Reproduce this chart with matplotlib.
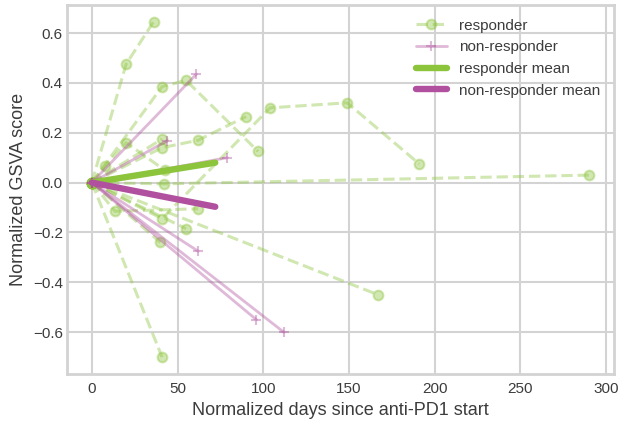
import numpy as np
import matplotlib
matplotlib.use('Agg')
import matplotlib.pyplot as plt

plt.style.use('seaborn-v0_8-whitegrid')
plt.rcParams['font.family'] = ['Liberation Sans', 'DejaVu Sans']

# 每个病人的随访时间点和归一化GSVA分数（都从0开始）
responder_days = [
    [0, 20, 36],
    [0, 41, 55, 97],
    [0, 7.5, 20, 42.5],
    [0, 41, 62, 90],
    [0, 41, 104, 149, 191],
    [0, 42, 290],
    [0, 167],
    [0, 41],
    [0, 13.5, 62],
    [0, 55],
    [0, 40],
    [0, 41],
]
responder_scores = [
    [0, 0.475, 0.645],
    [0, 0.385, 0.41, 0.125],
    [0, 0.065, 0.16, 0.05],
    [0, 0.14, 0.17, 0.265],
    [0, -0.145, 0.30, 0.32, 0.075],
    [0, -0.005, 0.03],
    [0, -0.45],
    [0, -0.70],
    [0, -0.115, -0.105],
    [0, -0.185],
    [0, -0.24],
    [0, 0.175],
]
nonresponder_days = [
    [0, 61],
    [0, 44],
    [0, 79],
    [0, 62],
    [0, 96],
    [0, 112],
]
nonresponder_scores = [
    [0, 0.435],
    [0, 0.168],
    [0, 0.10],
    [0, -0.275],
    [0, -0.55],
    [0, -0.60],
]
# 平均趋势线
mean_days = [0, 72]
responder_mean = [0, 0.08]
nonresponder_mean = [0, -0.097]

green = '#8cc43c'
purple = '#b0509f'

fig = plt.figure(figsize=(6.2, 4.21), dpi=100)
ax = fig.add_axes([0.108, 0.112, 0.882, 0.876])

for i, (d, s) in enumerate(zip(responder_days, responder_scores)):
    ax.plot(d, s, '--o', color=green, alpha=0.4, lw=2.2, ms=7, mew=1.5,
            label='responder' if i == 0 else None)
for i, (d, s) in enumerate(zip(nonresponder_days, nonresponder_scores)):
    ax.plot(d, s, '-+', color=purple, alpha=0.4, lw=2, ms=7, mew=1.5,
            label='non-responder' if i == 0 else None)
ax.plot(mean_days, responder_mean, color=green, lw=4.6, solid_capstyle='round',
        label='responder mean')
ax.plot(mean_days, nonresponder_mean, color=purple, lw=4.6, solid_capstyle='round',
        label='non-responder mean')

ax.set_xticks([0, 50, 100, 150, 200, 250, 300])
ax.set_yticks([-0.6, -0.4, -0.2, 0.0, 0.2, 0.4, 0.6])
ax.tick_params(labelsize=11, colors='#3c3c3c')
ax.tick_params(axis='x', pad=6)
ax.tick_params(axis='y', pad=3)
ax.grid(True, color='#d3d3d3', lw=1.5)
for sp in ax.spines.values():
    sp.set_color('#d3d3d3')
    sp.set_linewidth(2)
ax.set_xlabel('Normalized days since anti-PD1 start', fontsize=13, color='#3c3c3c')
ax.set_ylabel('Normalized GSVA score', fontsize=13, color='#3c3c3c')
ax.legend(loc='upper right', frameon=False, fontsize=11, labelcolor='#3c3c3c')

fig.savefig('out.png', dpi=100)
